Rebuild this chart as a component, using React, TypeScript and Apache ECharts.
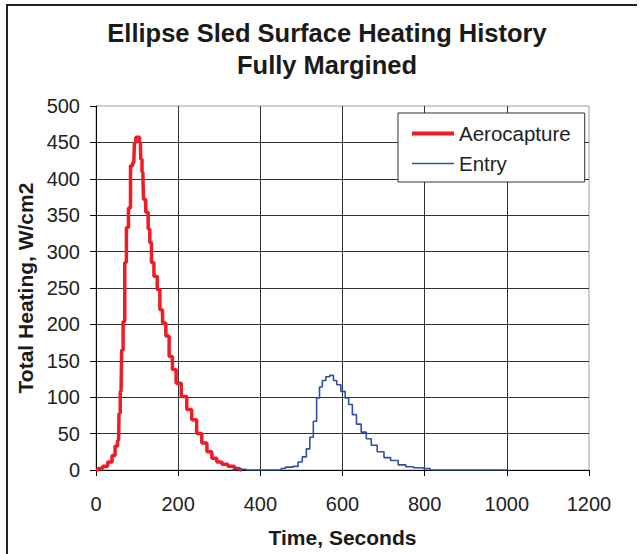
import React, { useEffect, useRef } from "react";
import * as echarts from "echarts";

const titleLines = ["Ellipse Sled Surface Heating History", "Fully Margined"];
const xAxisName = "Time, Seconds";
const yAxisName = "Total Heating, W/cm2";
const seriesNames = ["Aerocapture", "Entry"];

const aeroTime = [0, 10, 22, 35, 43, 50, 55, 57, 61, 64, 68, 72, 76, 82, 86, 92, 95, 99, 104, 108, 110, 114, 117, 125, 129, 133, 137, 145, 153, 158, 166, 174, 182, 190, 200, 215, 227, 239, 251, 264, 276, 288, 300, 313, 329, 345, 355];
const aeroHeat = [0, 2, 5, 11, 20, 33, 41, 78, 108, 165, 204, 285, 333, 360, 418, 422, 450, 457, 457, 450, 427, 409, 372, 354, 331, 312, 285, 266, 248, 220, 202, 184, 156, 138, 119, 101, 83, 69, 50, 37, 25, 16, 11, 8, 5, 2, 0];

const entryTime = [330, 340, 365, 366, 450, 451, 471, 488, 496, 508, 516, 525, 533, 541, 547, 555, 564, 574, 582, 590, 602, 611, 619, 629, 639, 652, 664, 676, 693, 709, 725, 746, 762, 783, 811, 815, 1000];
const entryHeat = [0, 1, 1, 0, 0, 2, 4, 5, 11, 18, 29, 45, 67, 99, 114, 123, 128, 130, 123, 117, 108, 99, 90, 76, 63, 52, 43, 34, 25, 17, 13, 7, 4.5, 3, 2, 0, 0];

const FONT = "'Liberation Sans', Arial, Helvetica, sans-serif";
const RED = "#ee1c24";
const BLUE = "#2f4fa6";

export default function App() {
  const ref = useRef<HTMLDivElement>(null);
  useEffect(() => {
    if (!ref.current) return;
    const chart = echarts.init(ref.current, null, { renderer: "svg" });
    chart.setOption({
      animation: false,
      backgroundColor: "#ffffff",
      title: {
        text: titleLines.join("\n"),
        left: 327,
        top: 17,
        textAlign: "center",
        padding: 0,
        textStyle: { fontFamily: FONT, fontSize: 25.5, fontWeight: "bold", color: "#1a1a1a", lineHeight: 32 },
      },
      legend: {
        orient: "vertical",
        left: 398,
        top: 113,
        data: [
          { name: seriesNames[0], lineStyle: { width: 4, color: RED } },
          { name: seriesNames[1], lineStyle: { width: 1.6, color: BLUE } },
        ],
        itemWidth: 42,
        itemHeight: 14,
        itemGap: 9,
        padding: [10, 14, 8, 12],
        borderColor: "#333",
        borderWidth: 1,
        backgroundColor: "#fff",
        itemStyle: { opacity: 0 },
        textStyle: { fontFamily: FONT, fontSize: 20.5, color: "#222", lineHeight: 20 },
      },
      grid: {
        left: 96,
        top: 106,
        right: 53,
        bottom: 84,
        show: true,
        borderColor: "#a0a0a0",
        borderWidth: 1,
        backgroundColor: "transparent",
      },
      xAxis: {
        type: "value",
        min: 0,
        max: 1200,
        interval: 200,
        name: xAxisName,
        nameLocation: "middle",
        nameGap: 57,
        nameTextStyle: { fontFamily: FONT, fontSize: 21, fontWeight: "bold", color: "#1a1a1a" },
        axisLine: { lineStyle: { color: "#000", width: 1 } },
        axisTick: { show: true, inside: false, length: 6, lineStyle: { color: "#000" } },
        axisLabel: { fontFamily: FONT, fontSize: 20, color: "#222", margin: 24, formatter: (v: number) => String(v) },
        splitLine: { show: true, showMaxLine: false, lineStyle: { color: "#333", width: 1 } },
      },
      yAxis: {
        type: "value",
        min: 0,
        max: 500,
        interval: 50,
        name: yAxisName,
        nameLocation: "middle",
        nameGap: 55,
        nameTextStyle: { fontFamily: FONT, fontSize: 21, fontWeight: "bold", color: "#1a1a1a" },
        axisLine: { show: true, lineStyle: { color: "#000", width: 1 } },
        axisTick: { show: true, inside: false, length: 6, lineStyle: { color: "#000" } },
        axisLabel: { fontFamily: FONT, fontSize: 20, color: "#222", margin: 16, formatter: (v: number) => String(v) },
        splitLine: { show: true, showMaxLine: false, lineStyle: { color: "#333", width: 1 } },
      },
      graphic: [
        { type: "line", shape: { x1: 6, y1: 5, x2: 637, y2: 5 }, style: { stroke: "#222", lineWidth: 2 }, silent: true },
        { type: "line", shape: { x1: 7, y1: 5, x2: 7, y2: 560 }, style: { stroke: "#222", lineWidth: 2 }, silent: true },
      ],
      series: [
        {
          name: seriesNames[0],
          type: "line",
          step: "middle",
          symbol: "none",
          data: aeroTime.map((t, i) => [t, aeroHeat[i]]),
          lineStyle: { color: RED, width: 3.5 },
          itemStyle: { color: RED },
          emphasis: { disabled: true },
          silent: true,
        },
        {
          name: seriesNames[1],
          type: "line",
          step: "middle",
          symbol: "none",
          data: entryTime.map((t, i) => [t, entryHeat[i]]),
          lineStyle: { color: BLUE, width: 1.6 },
          itemStyle: { color: BLUE },
          emphasis: { disabled: true },
          silent: true,
        },
      ],
    });
    return () => chart.dispose();
  }, []);
  return (
    <div
      ref={ref}
      style={{ position: "fixed", left: 0, top: 0, width: 642, height: 554, background: "#fff" }}
    />
  );
}
